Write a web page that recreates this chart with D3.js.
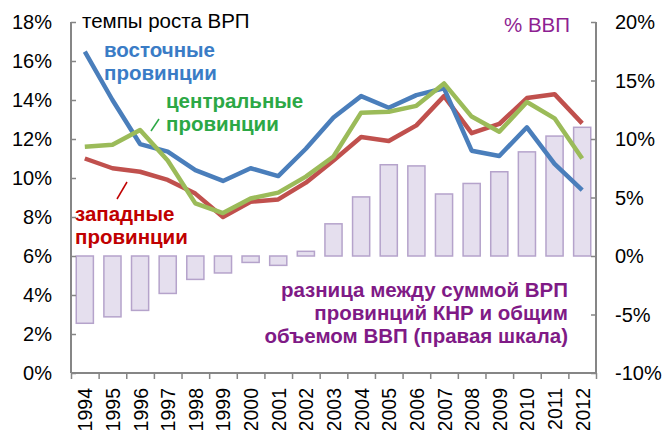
<!DOCTYPE html>
<html><head><meta charset="utf-8">
<script src="https://cdn.jsdelivr.net/npm/d3@7"></script>
<style>body{margin:0;background:#fff}svg{display:block;font-family:"Liberation Sans",Arial,sans-serif}</style>
</head><body><svg id="c" width="663" height="430"></svg>
<script>
const years = ["1994","1995","1996","1997","1998","1999","2000","2001","2002","2003","2004","2005","2006","2007","2008","2009","2010","2011","2012"];
const east    = [16.48,14.0,11.74,11.35,10.4,9.85,10.5,10.1,11.5,13.1,14.2,13.6,14.25,14.6,11.4,11.13,12.6,10.72,9.38];
const west    = [11.0,10.5,10.32,9.9,9.2,8.0,8.78,8.9,9.76,10.9,12.1,11.9,12.7,14.2,12.3,12.77,14.1,14.3,12.8];
const central = [11.6,11.7,12.46,10.9,8.7,8.2,8.95,9.25,10.07,11.1,13.35,13.4,13.7,14.85,13.15,12.37,13.9,13.06,11.0];
const gap     = [-5.75,-5.2,-4.65,-3.2,-2.0,-1.45,-0.55,-0.8,0.4,2.75,5.05,7.8,7.7,5.3,6.2,7.2,8.9,10.25,11.0];
const leftTicks = [0,2,4,6,8,10,12,14,16,18];
const rightTicks = [-10,-5,0,5,10,15,20];

const svg = d3.select("#c");
const L = 71, R = 596, T = 22, B = 373;
const x = d3.scaleBand().domain(years).range([L, R]).paddingInner(0.38).paddingOuter(0.19);
const yL = d3.scaleLinear().domain([0, 18]).range([B, T]);
const yR = d3.scaleLinear().domain([-10, 20]).range([B, T]);
const axisCol = "#868686";

// bars
svg.append("g").selectAll("rect").data(gap).join("rect")
  .attr("x", (d,i) => x(years[i]))
  .attr("width", x.bandwidth())
  .attr("y", d => yR(Math.max(0,d)))
  .attr("height", d => Math.abs(yR(d) - yR(0)))
  .attr("fill", "#e5dfee").attr("stroke", "#b5a3cb").attr("stroke-width", 1.5);

// axes
const gL = svg.append("g").attr("transform", `translate(${L},0)`)
  .call(d3.axisRight(yL).tickValues(leftTicks).tickSize(5).tickFormat(""));
gL.selectAll("line").attr("stroke", axisCol).attr("stroke-width", 1.5);
gL.select(".domain").attr("stroke", axisCol).attr("stroke-width", 2).attr("d", `M0,${B}V${T}`);
svg.append("g").selectAll("text").data(leftTicks).join("text")
  .attr("x", 52).attr("y", d => yL(d) + 7).attr("text-anchor", "end")
  .attr("font-size", 20).attr("fill", "#000").text(d => d + "%");

const gR = svg.append("g").attr("transform", `translate(${R},0)`)
  .call(d3.axisLeft(yR).tickValues(rightTicks).tickSize(5).tickFormat(""));
gR.selectAll("line").attr("stroke", axisCol).attr("stroke-width", 1.5);
gR.select(".domain").attr("stroke", axisCol).attr("stroke-width", 2).attr("d", `M0,${B}V${T}`);
svg.append("g").selectAll("text").data(rightTicks).join("text")
  .attr("x", 615).attr("y", d => yR(d) + 7).attr("text-anchor", "start")
  .attr("font-size", 20).attr("fill", "#000").text(d => d + "%");

// bottom axis (ticks between categories)
const bx = d3.scaleLinear().domain([0, years.length]).range([L, R]);
const gB = svg.append("g").attr("transform", `translate(0,${B})`)
  .call(d3.axisBottom(bx).tickValues(d3.range(years.length + 1)).tickSize(6).tickFormat(""));
gB.selectAll("line").attr("stroke", axisCol).attr("stroke-width", 1.5);
gB.select(".domain").attr("stroke", axisCol).attr("stroke-width", 2).attr("d", `M${L},0H${R}`);
svg.append("g").selectAll("text").data(years).join("text")
  .attr("transform", d => `translate(${x(d) + x.bandwidth()/2 + 7.5},${B + 15}) rotate(-90)`)
  .attr("text-anchor", "end").attr("font-size", 19.5).attr("fill", "#000").text(d => d);

// lines
const cx = i => x(years[i]) + x.bandwidth()/2;
const mk = yS => d3.line().x((d,i) => cx(i)).y(d => yS(d));
[[west,"#c0504d"],[east,"#4a7ebb"],[central,"#9bbb59"]].forEach(([s,c]) => {
  svg.append("path").attr("d", mk(yL)(s)).attr("fill","none").attr("stroke",c)
    .attr("stroke-width",4.5).attr("stroke-linejoin","round");
});

// annotations
function txt(t, xx, yy, col, w, anchor) {
  svg.append("text").attr("x", xx).attr("y", yy).attr("fill", col).attr("font-size", 20.5)
    .attr("font-weight", w).attr("text-anchor", anchor || "start").text(t);
}
txt("темпы роста ВРП", 82, 28, "#000", "normal");
txt("восточные", 104, 57, "#3a7cc6", "bold");
txt("провинции", 104, 80, "#3a7cc6", "bold");
txt("центральные", 166, 108, "#2ca845", "bold");
txt("провинции", 166, 131, "#2ca845", "bold");
txt("западные", 75, 221, "#c00000", "bold");
txt("провинции", 75, 244, "#c00000", "bold");
txt("% ВВП", 570, 32, "#8e1f92", "normal", "end");
txt("разница между суммой ВРП", 568, 297, "#7f1a86", "bold", "end");
txt("провинций КНР и общим", 568, 320, "#7f1a86", "bold", "end");
txt("объемом ВВП (правая шкала)", 568, 343, "#7f1a86", "bold", "end");
svg.append("line").attr("x1",151).attr("y1",131).attr("x2",159).attr("y2",119).attr("stroke","#2ca845").attr("stroke-width",1.5);
svg.append("line").attr("x1",117).attr("y1",199).attr("x2",127).attr("y2",182).attr("stroke","#c00000").attr("stroke-width",1.5);
</script></body></html>
